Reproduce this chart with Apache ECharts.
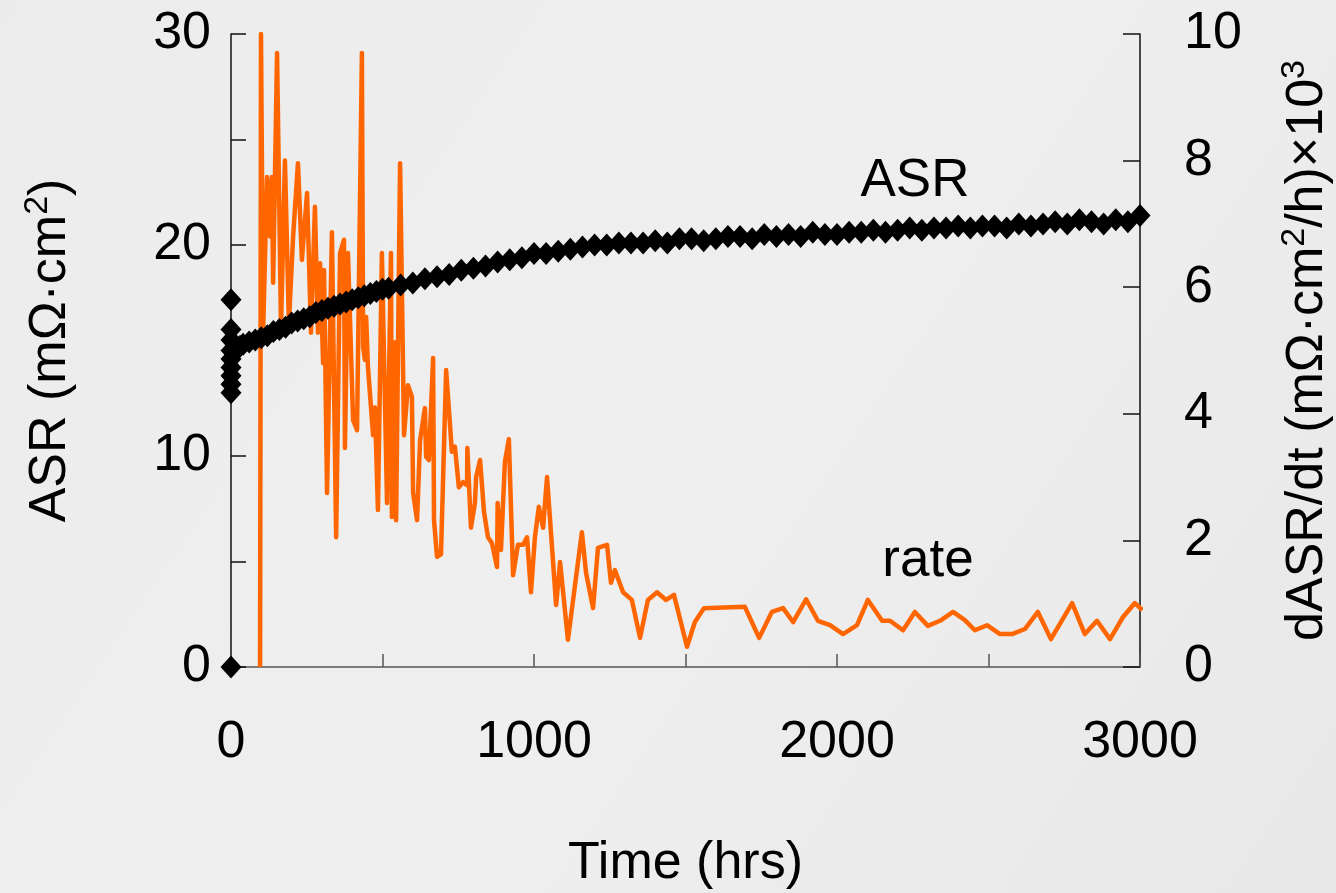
<!DOCTYPE html>
<html>
<head>
<meta charset="utf-8">
<script src="https://cdn.jsdelivr.net/npm/echarts@6/dist/echarts.min.js"></script>
<style>
html,body{margin:0;padding:0;background:#ededed;}
#chart{width:1336px;height:893px;}
</style>
</head>
<body>
<div id="chart"></div>
<script>
// ---- data ----
const asrTime = [0,0,0,0,0,0,0,0,0,0,
  10,20,30,40,60,80,100,120,140,160,180,200,220,240,260,280,300,320,340,360,380,400,420,440,460,480,500,
  520,560,600,640,680,720,760,800,840,880,920,960,1000,1040,1080,1120,1160,1200,1240,1280,1320,1360,1400,1440,1480,1520,1560,1600,1640,1680,1720,1760,1800,1840,1880,1920,1960,2000,2040,2080,2120,2160,2200,2240,2280,2320,2360,2400,2440,2480,2520,2560,2600,2640,2680,2720,2760,2800,2840,2880,2920,2960,3000];
const asrValues = [0,13.0,13.4,13.8,14.2,14.6,15.0,15.5,16.0,17.4,
  14.9,15.1,15.2,15.3,15.4,15.5,15.6,15.7,15.9,16.0,16.1,16.3,16.4,16.5,16.6,16.8,16.9,17.0,17.1,17.2,17.3,17.4,17.5,17.6,17.7,17.8,17.9,
  17.95,18.1,18.2,18.4,18.5,18.6,18.8,18.9,19.0,19.2,19.3,19.4,19.6,19.6,19.7,19.8,19.9,20.0,20.0,20.1,20.1,20.1,20.2,20.1,20.3,20.3,20.2,20.3,20.4,20.4,20.3,20.5,20.4,20.5,20.4,20.6,20.5,20.5,20.6,20.6,20.7,20.6,20.7,20.8,20.7,20.8,20.8,20.9,20.8,20.9,20.9,20.8,21.0,20.9,21.0,21.1,21.0,21.2,21.1,21.0,21.2,21.1,21.4];

const rateTime = [96,99,106,119,129,135,139,152,165,178,191,205,221,234,251,264,277,287,294,304,307,317,333,347,360,373,376,386,403,416,
  432,436,442,446,452,469,475,485,498,515,528,531,541,545,558,571,584,597,601,614,624,640,644,653,667,670,680,693,710,729,739,752,766,779,780,792,805,809,822,835,848,861,878,880,891,904,917,931,947,964,977,990,1003,1016,1030,1043,1073,1086,1112,1158,1172,1195,1211,1241,1254,1267,1294,1323,1350,1376,1406,1436,1462,1505,1531,1561,1696,1743,1785,1822,1855,1898,1937,1977,2020,2066,2102,2149,2175,2218,2257,2300,2340,2383,2422,2455,2495,2538,2578,2620,2663,2706,2776,2818,2858,2901,2944,2983,3008];
const rateValues = [0,10,5.3,7.74,6.8,7.74,6.07,9.7,5.37,8.0,5.43,6.8,7.96,6.43,7.49,5.28,7.27,5.28,6.38,4.8,6.27,2.75,6.87,2.05,6.54,6.75,3.46,6.54,3.9,3.74,
  9.7,5.06,4.85,5.53,4.74,3.66,4.1,2.48,6.54,2.59,6.54,2.37,5.13,2.32,7.96,3.66,4.45,4.27,2.75,2.32,3.58,4.09,3.32,3.27,4.88,2.32,1.74,1.78,4.69,3.4,3.48,2.84,2.92,2.87,3.46,2.2,2.59,3.0,3.27,2.45,2.05,1.96,1.58,2.59,1.85,3.24,3.6,1.45,1.93,1.93,2.05,1.18,2.05,2.53,2.2,3.0,0.98,1.66,0.43,2.13,1.48,0.93,1.88,1.93,1.33,1.53,1.18,1.06,0.46,1.06,1.18,1.06,1.14,0.32,0.71,0.93,0.95,0.46,0.87,0.93,0.71,1.07,0.73,0.66,0.52,0.66,1.06,0.73,0.73,0.58,0.87,0.65,0.73,0.87,0.74,0.58,0.66,0.52,0.52,0.6,0.87,0.44,1.01,0.52,0.73,0.44,0.79,1.01,0.9];

const xTicks = [0,1000,2000,3000];
const leftTicks = [0,10,20,30];
const rightTicks = [0,2,4,6,8,10];

// ---- chart ----
const FONT = 'Liberation Sans, Arial, sans-serif';
const chart = echarts.init(document.getElementById('chart'), null, {renderer:'canvas'});
const asrData = asrTime.map((t,i)=>[t, asrValues[i]]);
const rateData = rateTime.map((t,i)=>[t, rateValues[i]]);

chart.setOption({
  backgroundColor: {
    type:'linear', x:0, y:0, x2:1, y2:1,
    colorStops:[{offset:0,color:'#ececec'},{offset:0.5,color:'#efefef'},{offset:1,color:'#e8e8e8'}]
  },
  animation:false,
  grid:{left:231, right:196, top:34, bottom:226, containLabel:false, outerBoundsMode:'none'},
  xAxis:{
    type:'value', min:0, max:3000, interval:500,
    name:'Time (hrs)', nameLocation:'middle', nameGap:171,
    nameTextStyle:{fontFamily:FONT, fontSize:52, color:'#000'},
    axisLine:{show:true, onZero:false, lineStyle:{color:'#555', width:1.5}},
    axisTick:{show:true, inside:true, length:13, lineStyle:{color:'#555', width:1.5}},
    axisLabel:{margin:50, fontFamily:FONT, fontSize:52, color:'#000',
      formatter:v=> xTicks.includes(v) ? String(v) : ''},
    splitLine:{show:false}
  },
  yAxis:[{
    type:'value', min:0, max:30, interval:5, position:'left',
    name:'{a|ASR (mΩ·cm}{s|2}{a|)}', nameLocation:'middle', nameRotate:90, nameGap:150,
    nameTextStyle:{fontFamily:FONT, fontSize:52, color:'#000',
      rich:{a:{fontFamily:FONT, fontSize:52, color:'#000', lineHeight:60},
            s:{fontFamily:FONT, fontSize:34, color:'#000', verticalAlign:'top', lineHeight:36}}},
    axisLine:{show:true, onZero:false, lineStyle:{color:'#111', width:1.5}},
    axisTick:{show:true, inside:true, length:15, lineStyle:{color:'#111', width:1.5}},
    axisLabel:{margin:20, fontFamily:FONT, fontSize:52, color:'#000',
      formatter:v=> leftTicks.includes(v) ? String(v) : ''},
    splitLine:{show:false}
  },{
    type:'value', min:0, max:10, interval:2, position:'right',
    name:'{a|dASR/dt (mΩ·cm}{s|2}{a|/h)×10}{s|3}', nameLocation:'middle', nameRotate:90, nameGap:138,
    nameTextStyle:{fontFamily:FONT, fontSize:52, color:'#000',
      rich:{a:{fontFamily:FONT, fontSize:52, color:'#000', lineHeight:60},
            s:{fontFamily:FONT, fontSize:34, color:'#000', verticalAlign:'top', lineHeight:36}}},
    axisLine:{show:true, onZero:false, lineStyle:{color:'#111', width:1.5}},
    axisTick:{show:true, inside:true, length:17, lineStyle:{color:'#111', width:1.5}},
    axisLabel:{margin:44, fontFamily:FONT, fontSize:52, color:'#000',
      formatter:v=> rightTicks.includes(v) ? String(v) : ''},
    splitLine:{show:false}
  }],
  series:[{
    name:'rate', type:'line', yAxisIndex:1, data:rateData,
    showSymbol:false, symbol:'none', clip:false,
    lineStyle:{color:'#ff6600', width:4.5, join:'round'}, z:2
  },{
    name:'ASR', type:'scatter', yAxisIndex:0, data:asrData,
    symbol:'diamond', symbolSize:[21,23], clip:false,
    itemStyle:{color:'#000', opacity:1}, z:3
  }],
  graphic:[
    {type:'text', x:915, y:181, style:{text:'ASR', font:'53px '+FONT, fill:'#000', align:'center', verticalAlign:'middle'}},
    {type:'text', x:928, y:561, style:{text:'rate', font:'53px '+FONT, fill:'#000', align:'center', verticalAlign:'middle'}}
  ]
});
</script>
</body>
</html>
